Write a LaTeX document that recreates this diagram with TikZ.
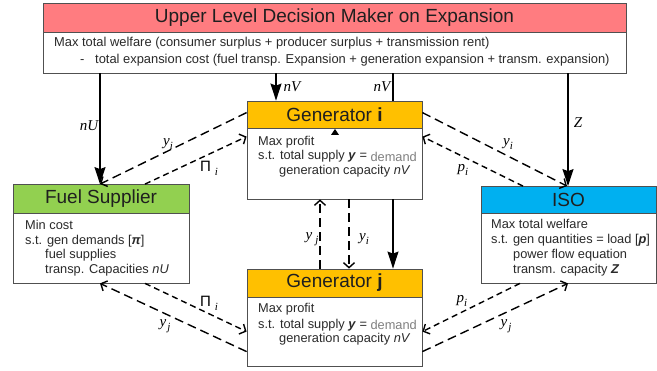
\documentclass[tikz,border=0pt]{standalone}
\usepackage{fontspec}
\setmainfont{Liberation Sans}
\newfontfamily\lblfont{Liberation Serif}
\usetikzlibrary{arrows.meta}
\definecolor{hdrred}{HTML}{FF7C80}
\definecolor{hdrorange}{HTML}{FFC000}
\definecolor{hdrgreen}{HTML}{92D050}
\definecolor{hdrblue}{HTML}{00B0F0}
\definecolor{boxline}{HTML}{505050}
\definecolor{txtgray}{HTML}{2A2A2A}
\definecolor{demgray}{HTML}{808080}
\newcommand{\mylab}[2]{{\lblfont\itshape #1\raisebox{-3.5pt}{\fontsize{11}{11}\selectfont #2}}}
\newcommand{\mypilab}{{\fontsize{15}{15}\selectfont Π}\hspace{4pt}{\lblfont\itshape\raisebox{-4pt}{\fontsize{11}{11}\selectfont i}}}
\tikzset{
  box/.style={draw=boxline, line width=0.8pt, inner sep=0pt, rectangle},
  hdr/.style={box, font=\fontsize{19}{19}\selectfont, text=black!88},
  bodytxt/.style={anchor=base west, inner sep=0pt, font=\fontsize{12.8}{14}\selectfont, text=txtgray},
  toptxt/.style={bodytxt, font=\fontsize{12.9}{14}\selectfont},
  solidarrow/.style={line width=1.4pt, -{Stealth[length=17pt,width=11pt,inset=2pt]}},
  solidline/.style={line width=1.4pt},
  longdash/.style={line width=1.4pt, dash pattern=on 9pt off 5pt, -{Straight Barb[length=5pt,width=11pt]}},
  shortdash/.style={line width=1.4pt, dash pattern=on 6pt off 4pt, -{Straight Barb[length=5pt,width=11pt]}},
  lbl/.style={inner sep=0pt, font=\fontsize{15}{15}\selectfont},
}
\begin{document}
\begin{tikzpicture}[x=1pt,y=-1pt]
\useasboundingbox (0,0) rectangle (657,371);
\fill[white] (0,0) rectangle (657,371);
% x positions of vertical connectors
\coordinate (xU) at (100,0);
\coordinate (xVa) at (276,0);
\coordinate (xVb) at (393,0);
\coordinate (xZ) at (568,0);
\coordinate (xYj) at (320,0);
\coordinate (xYi) at (349,0);

% upper level box
\node[hdr, fill=hdrred, minimum width=583pt, minimum height=28.7pt] (tophdr) at (334.5,17.65) {Upper Level Decision Maker on Expansion};
\node[box, fill=white, minimum width=583pt, minimum height=41pt] (topbody) at (334.5,52.5) {};
\node[toptxt] (topl1) at (54,47) {Max total welfare (consumer surplus + producer surplus + transmission rent)};
\node[toptxt] (topl2a) at (80,63.5) {-};
\node[toptxt] (topl2) at (95,63.5) {total expansion cost (fuel transp. Expansion + generation expansion + transm. expansion)};

% generator i
\node[hdr, fill=hdrorange, minimum width=175pt, minimum height=27.5pt] (genihdr) at (334.5,114.75) {Generator \textbf{i}};
\node[box, fill=white, minimum width=175pt, minimum height=70.5pt] (genibody) at (334.5,163.75) {};
\node[bodytxt] (gi1) at (258,145.5) {Max profit};
\node[bodytxt] (gi2) at (258,160) {s.t. total supply \textbf{\textit{y}} = \raisebox{-1.5pt}{\color{demgray}demand}};
\node[bodytxt] (gi3) at (279,174.5) {generation capacity \textit{nV}};

% generator j
\node[hdr, fill=hdrorange, minimum width=175pt, minimum height=28pt] (genjhdr) at (334.5,283) {Generator \textbf{j}};
\node[box, fill=white, minimum width=175pt, minimum height=69.5pt] (genjbody) at (334.5,331.75) {};
\node[bodytxt] (gj1) at (258,313) {Max profit};
\node[bodytxt] (gj2) at (258,328.5) {s.t. total supply \textbf{\textit{y}} = \raisebox{-1.5pt}{\color{demgray}demand}};
\node[bodytxt] (gj3) at (279,343) {generation capacity \textit{nV}};

% fuel supplier
\node[hdr, fill=hdrgreen, minimum width=176pt, minimum height=28.5pt] (fuelhdr) at (101,198.75) {Fuel Supplier};
\node[box, fill=white, minimum width=176pt, minimum height=70pt] (fuelbody) at (101,248) {};
\node[bodytxt] (f1) at (25,230) {Min cost};
\node[bodytxt] (f2) at (25,244.5) {s.t. gen demands [\textbf{\textit{π}}]};
\node[bodytxt] (f3) at (45,259) {fuel supplies};
\node[bodytxt] (f4) at (45,273.5) {transp. Capacities \textit{nU}};

% ISO
\node[hdr, fill=hdrblue, minimum width=175pt, minimum height=26.5pt] (isohdr) at (568.5,199.75) {ISO};
\node[box, fill=white, minimum width=175pt, minimum height=70pt] (isobody) at (568.5,248) {};
\node[bodytxt] (s1) at (491,229) {Max total welfare};
\node[bodytxt] (s2) at (491,244) {s.t. gen quantities = load [\textbf{\textit{p}}]};
\node[bodytxt] (s3) at (513,259) {power flow equation};
\node[bodytxt] (s4) at (513,274) {transm. capacity \textbf{\textit{Z}}};

% solid connectors
\draw[solidarrow] (topbody.south -| xU) -- (fuelhdr.north -| xU);
\draw[solidarrow] (topbody.south -| xVa) -- (genihdr.north -| xVa);
\draw[solidline] (topbody.south -| xVb) -- (genihdr.north -| xVb);
\draw[solidarrow] (genibody.south -| xVb) -- (genjhdr.north -| xVb);
\draw[solidarrow] (topbody.south -| xZ) -- (isohdr.north -| xZ);
\fill (331,135) -- (339,135) -- (335,129) -- cycle;

% dashed connectors
\draw[longdash] ([yshift=-12pt]genihdr.north west) -- (fuelhdr.north -| xU);
\draw[shortdash] ([xshift=44pt]fuelhdr.north) -- ([yshift=-8.5pt]genibody.north west);
\draw[longdash] ([yshift=-12pt]genihdr.north east) -- ([xshift=-1.5pt]isohdr.north);
\draw[shortdash] ([xshift=-45.5pt]isohdr.north) -- ([yshift=-8.5pt]genibody.north east);
\draw[longdash] (genjhdr.north -| xYj) -- (genibody.south -| xYj);
\draw[longdash] (genibody.south -| xYi) -- (genjhdr.north -| xYi);
\draw[shortdash] ([xshift=44pt]fuelbody.south) -- ([yshift=-35pt]genjbody.north west);
\draw[longdash] ([yshift=-55pt]genjbody.north west) -- (fuelbody.south -| xU);
\draw[shortdash] ([xshift=-48.5pt]isobody.south) -- ([yshift=-35pt]genjbody.north east);
\draw[longdash] ([yshift=-55pt]genjbody.north east) -- (isobody.south -| xZ);

% labels
\node[lbl] (lnU) at (89,126) {\lblfont\itshape nU};
\node[lbl] (lnVa) at (292,87) {\lblfont\itshape nV};
\node[lbl] (lnVb) at (382,87) {\lblfont\itshape nV};
\node[lbl] (lZ) at (578,123) {\lblfont\itshape Z};
\node[lbl] (lyi1) at (168,144) {\mylab{y}{i}};
\node[lbl] (lPi1) at (209,168) {\mypilab};
\node[lbl] (lyi2) at (508,144) {\mylab{y}{i}};
\node[lbl] (lpi1) at (463,170) {\mylab{p}{i}};
\node[lbl] (lyj1) at (312,239) {\mylab{y}{\hspace{3pt}j}};
\node[lbl] (lyi3) at (364,239) {\mylab{y}{i}};
\node[lbl] (lPi2) at (209,303) {\mypilab};
\node[lbl] (lyj2) at (165,326) {\mylab{y}{\hspace{1pt}j}};
\node[lbl] (lpi2) at (462,301) {\mylab{p}{i}};
\node[lbl] (lyj3) at (506,326) {\mylab{y}{\hspace{1pt}j}};
\end{tikzpicture}
\end{document}
